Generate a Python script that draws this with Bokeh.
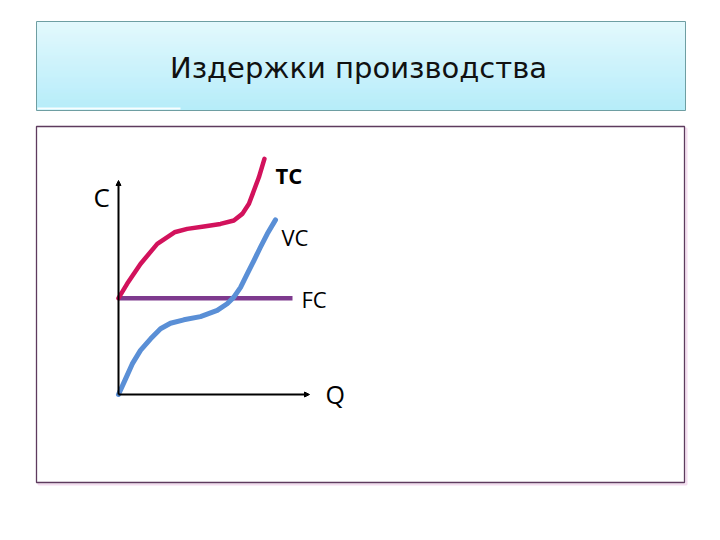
from bokeh.plotting import figure
from bokeh.models import Arrow, NormalHead, Range1d
from bokeh.embed import file_html
from bokeh.resources import INLINE
from bokeh.core.properties import value

# ---- data ----
title_text = "Издержки производства"
label_c = "C"
label_q = "Q"
label_tc = "TC"
label_vc = "VC"
label_fc = "FC"

q_tc = [0.0, 0.45, 1.15, 2.03, 2.93, 3.60, 4.47, 5.34, 6.04, 6.48, 6.83, 7.09, 7.35, 7.64]
c_tc = [4.50, 5.17, 6.10, 7.04, 7.58, 7.74, 7.85, 7.97, 8.13, 8.44, 8.91, 9.53, 10.15, 11.01]

q_vc = [0.0, 0.37, 0.72, 1.15, 1.68, 2.20, 2.72, 3.42, 4.29, 5.17, 5.69, 6.04, 6.39, 6.74, 7.09, 7.43, 7.79, 8.22]
c_vc = [0.0, 0.73, 1.43, 2.06, 2.60, 3.07, 3.33, 3.49, 3.64, 3.93, 4.24, 4.55, 5.01, 5.64, 6.26, 6.88, 7.51, 8.16]

q_fc = [0.0, 9.11]
c_fc = [4.5, 4.5]

axis_max_q = 10.0
axis_max_c = 10.0

# ---- layout ----
W, H = 704, 524
OX, OY = 118, 394      # canvas pixel of the origin
SX, SY = 19.1, 21.4    # pixels per data unit


def X(cx):
    return (cx - OX) / SX


def Y(cy):
    return (OY - cy) / SY


p = figure(width=W, height=H,
           x_range=Range1d(X(0), X(W)), y_range=Range1d(Y(H), Y(0)),
           output_backend="svg", toolbar_location=None,
           x_axis_location=None, y_axis_location=None, min_border=0)
p.grid.visible = False
p.outline_line_color = None
p.background_fill_color = "white"
p.border_fill_color = "white"

# header box with vertical gradient
top_c = (218, 247, 253)
bot_c = (158, 231, 248)
hx0, hx1, hy0, hy1 = 36, 685, 21, 110
n = hy1 - hy0
lefts, rights, tops, bottoms, cols = [], [], [], [], []
for i in range(n):
    t = i / (n - 1)
    r = int(top_c[0] + (bot_c[0] - top_c[0]) * t)
    g = int(top_c[1] + (bot_c[1] - top_c[1]) * t)
    b = int(top_c[2] + (bot_c[2] - top_c[2]) * t)
    lefts.append(X(hx0)); rights.append(X(hx1))
    tops.append(Y(hy0 + i)); bottoms.append(Y(hy0 + i + 1.05))
    cols.append("#%02x%02x%02x" % (r, g, b))
p.quad(left=lefts, right=rights, top=tops, bottom=bottoms, fill_color=cols, line_color=None)
p.quad(left=[X(hx0)], right=[X(hx1)], top=[Y(hy0)], bottom=[Y(hy1)],
       fill_color=None, line_color="#6e9ea2", line_width=1)
p.line(x=[X(hx0 + 1), X(180)], y=[Y(hy1 - 2), Y(hy1 - 2)], line_color="white", line_width=2, line_alpha=0.9)

# lower box
bx0, bx1, by0, by1 = 36, 684, 126, 482
p.quad(left=[X(bx0 + 2)], right=[X(bx1 + 2)], top=[Y(by0 + 2)], bottom=[Y(by1 + 2)],
       fill_color=None, line_color="#f4dcef", line_width=2)
p.quad(left=[X(bx0)], right=[X(bx1)], top=[Y(by0)], bottom=[Y(by1)],
       fill_color="white", line_color="#5e3b5e", line_width=1.3)

# title
p.text(x=[X(358)], y=[Y(67)], text=[title_text], text_font=value("DejaVu Sans"),
       text_font_size="29px", text_align="center", text_baseline="alphabetic", text_color="#111111")

# axes
p.add_layout(Arrow(x_start=0, y_start=0, x_end=0, y_end=axis_max_c, line_width=2, line_color="black",
                   end=NormalHead(size=5, fill_color="black", line_color="black")))
p.add_layout(Arrow(x_start=0, y_start=0, x_end=axis_max_q, y_end=0, line_width=2, line_color="black",
                   end=NormalHead(size=5, fill_color="black", line_color="black")))

# curves
p.line(q_fc, c_fc, line_color="#7e3a8e", line_width=4.5)
p.line(q_vc, c_vc, line_color="#5a8fd6", line_width=5, line_join="round", line_cap="round")
p.line(q_tc, c_tc, line_color="#d2125c", line_width=4.5, line_join="round", line_cap="round")

# labels
lab_font = value("Open Sans")
p.text(x=[X(275)], y=[Y(174)], text=[label_tc], text_font=lab_font, text_font_style="bold",
       text_font_size="22px", text_baseline="alphabetic", text_color="black")
p.text(x=[X(281)], y=[Y(236)], text=[label_vc], text_font=lab_font,
       text_font_size="22px", text_baseline="alphabetic", text_color="black")
p.text(x=[X(301)], y=[Y(298)], text=[label_fc], text_font=lab_font,
       text_font_size="22px", text_baseline="alphabetic", text_color="black")
p.text(x=[X(325)], y=[Y(393)], text=[label_q], text_font=lab_font,
       text_font_size="25px", text_baseline="alphabetic", text_color="black")
p.text(x=[X(93)], y=[Y(196)], text=[label_c], text_font=lab_font,
       text_font_size="26px", text_baseline="alphabetic", text_color="black")

open("out.html", "w").write(file_html(p, INLINE))
